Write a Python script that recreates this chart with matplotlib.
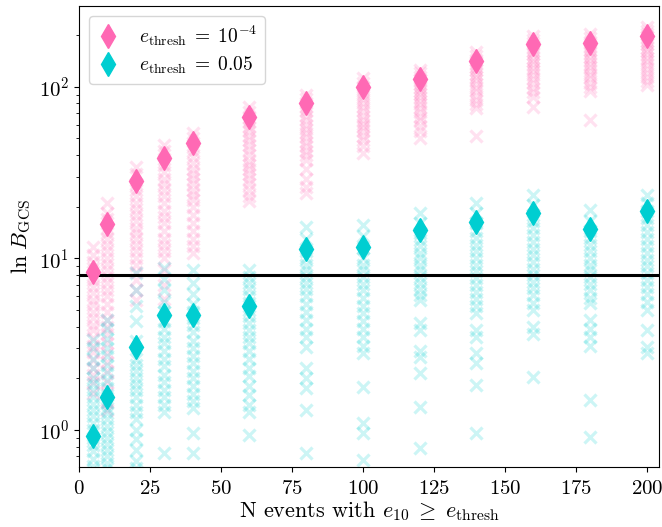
import numpy as np
import matplotlib
matplotlib.use("Agg")
import matplotlib.pyplot as plt

plt.rcParams["font.family"] = "serif"
plt.rcParams["font.serif"] = ["cmr10", "DejaVu Serif"]
plt.rcParams["mathtext.fontset"] = "cm"
plt.rcParams["axes.formatter.use_mathtext"] = True
plt.rcParams["axes.unicode_minus"] = False

# number of events per point
n_events = [5, 10, 20, 30, 40, 60, 80, 100, 120, 140, 160, 180, 200]

# headline values (diamonds)
pink_main = [8.3, 15.8, 28.1, 38.5, 47.1, 66.8, 80.7, 100, 111, 142, 178, 181, 198]
teal_main = [0.92, 1.56, 3.05, 4.66, 4.7, 5.25, 11.3, 11.7, 14.6, 16.4, 18.5, 14.8, 18.8]

# individual realisations, e_thresh = 1e-4
pink_5 = [11.7, 10.5, 9.5, 8.8, 8.0, 7.5, 6.8, 6.3, 5.7, 5.35, 4.9, 4.5, 4.1, 3.8, 3.45, 3.1, 2.85, 2.55, 2.3, 2.1, 1.9, 1.65]
pink_10 = [21, 18.5, 17, 15, 14, 13, 12, 11, 10, 9.3, 8.5, 7.8, 7.2, 6.5, 6.0, 5.4, 4.9, 4.4, 4.0, 3.6, 3.2, 2.8, 2.5, 2.2, 1.9, 1.65, 1.45, 1.3]
pink_20 = [34, 31, 27, 25, 23, 21, 19.5, 18, 16.5, 15, 14, 13, 12, 11, 10, 9.2, 8.3, 7.5, 6.5, 5.7]
pink_30 = [46, 42, 38, 35, 32, 29, 27, 25, 23, 21, 19, 17.5, 16, 14.5, 13, 12, 11, 10, 8.5, 7, 5.8]
pink_40 = [54, 50, 46, 42, 39, 36, 33, 31, 29, 27, 25, 23.5, 22, 20, 18, 16, 14.5, 13, 11.8, 10.8]
pink_60 = [76, 71, 66, 62, 58, 55, 52, 49, 46, 43, 40, 37, 35, 33, 31, 29, 27, 25, 23, 21.5]
pink_80 = [90, 85, 80, 76, 72, 68, 64, 60, 57, 54, 51, 48, 45, 42, 40, 37.5, 33, 29, 26, 24]
pink_100 = [113, 106, 100, 95, 90, 85, 80, 76, 72, 68, 64, 61, 58, 55, 52, 49, 45, 41]
pink_120 = [126, 120, 114, 109, 104, 99, 95, 91, 87, 83, 79, 75, 71, 67, 64, 59, 55, 50]
pink_140 = [160, 152, 144, 137, 131, 125, 119, 114, 109, 104, 99, 94, 89, 84, 79, 75, 52]
pink_160 = [198, 188, 179, 170, 162, 155, 148, 141, 135, 129, 123, 117, 111, 105, 99, 93, 87, 76]
pink_180 = [203, 192, 182, 173, 165, 157, 150, 143, 136, 130, 124, 118, 112, 106, 100, 94, 64]
pink_200 = [224, 213, 203, 194, 185, 177, 169, 162, 155, 148, 141, 134, 127, 120, 114, 108, 103]

# individual realisations, e_thresh = 0.05
teal_5 = [3.35, 3.0, 2.6, 2.3, 2.0, 1.85, 1.7, 1.55, 1.42, 1.3, 1.2, 1.1, 1.0, 0.9, 0.82, 0.75, 0.68, 0.62, 0.58]
teal_10 = [4.4, 3.9, 3.4, 3.0, 2.7, 2.4, 2.15, 1.95, 1.75, 1.6, 1.45, 1.35, 1.25, 1.15, 1.05, 0.97, 0.9, 0.83, 0.76, 0.7, 0.64, 0.6]
teal_20 = [8.2, 6.5, 5.3, 4.3, 3.3, 2.6, 2.4, 2.2, 2.0, 1.85, 1.7, 1.55, 1.4, 1.28, 1.15, 1.0, 0.88, 0.76, 0.66, 0.6]
teal_30 = [8.8, 7.6, 6.5, 5.6, 4.9, 4.3, 3.9, 3.5, 3.2, 2.9, 2.6, 2.35, 2.1, 1.9, 1.7, 1.55, 1.4, 1.28, 0.73]
teal_40 = [8.6, 7.2, 6.2, 5.4, 4.9, 4.5, 4.1, 3.7, 3.3, 3.0, 2.7, 2.45, 2.2, 2.0, 1.8, 1.62, 1.47, 1.35, 0.96, 0.73]
teal_60 = [8.6, 7.8, 7.2, 6.6, 6.0, 5.5, 5.0, 4.6, 4.2, 3.8, 3.5, 3.2, 2.9, 2.6, 2.3, 2.05, 1.8, 1.6, 1.4, 1.28, 0.93]
teal_80 = [15.3, 13, 11, 10, 9.2, 8.5, 7.8, 7.2, 6.6, 6.0, 5.4, 4.9, 4.4, 3.9, 3.5, 3.05, 2.3, 2.0, 1.75, 1.31, 0.73]
teal_100 = [15.7, 13.5, 11.5, 10, 9.2, 8.5, 7.8, 7.1, 6.5, 5.9, 5.3, 4.8, 4.3, 3.9, 3.5, 3.1, 2.8, 1.78, 1.1, 0.96, 0.67]
teal_120 = [18.5, 16, 14, 12.8, 11.8, 10.8, 10, 9.2, 8.5, 7.8, 7.2, 6.6, 6.1, 5.7, 4.2, 3.8, 2.9, 2.65, 2.15, 1.36, 0.78]
teal_140 = [21, 18.5, 16, 14.5, 13.2, 12, 11, 10, 9.2, 8.4, 7.7, 7.0, 6.4, 5.8, 5.3, 4.8, 3.8, 3.5, 2.8, 2.45, 1.83, 0.96]
teal_160 = [23.4, 20.5, 18, 16.5, 15, 13.7, 12.5, 11.4, 10.4, 9.5, 8.7, 8.0, 7.3, 6.7, 6.1, 5.5, 5.0, 4.0, 3.6, 2.04]
teal_180 = [19.2, 16.5, 14.5, 13.2, 12, 11, 10, 9.2, 8.5, 7.8, 7.1, 6.5, 5.9, 5.5, 4.4, 3.9, 3.5, 3.1, 1.5, 0.91]
teal_200 = [23.4, 21, 19, 17.2, 15.6, 14.2, 13, 11.8, 10.8, 9.8, 9.0, 8.2, 7.5, 6.8, 6.2, 5.6, 5.0, 3.8, 3.05, 2.8]

pink_samples = [pink_5, pink_10, pink_20, pink_30, pink_40, pink_60, pink_80,
                pink_100, pink_120, pink_140, pink_160, pink_180, pink_200]
teal_samples = [teal_5, teal_10, teal_20, teal_30, teal_40, teal_60, teal_80,
                teal_100, teal_120, teal_140, teal_160, teal_180, teal_200]

threshold = 8.0

pink = "#ff69b4"
teal = "#00ced1"
fs = 16

fig = plt.figure(figsize=(6.62, 5.27), dpi=100)
ax = fig.add_axes([0.1193, 0.1139, 0.8762, 0.8747])

for n, vals in zip(n_events, pink_samples):
    ax.scatter([n] * len(vals), vals, marker="x", s=75, linewidths=2.3,
               color=pink, alpha=0.2, zorder=1)
for n, vals in zip(n_events, teal_samples):
    ax.scatter([n] * len(vals), vals, marker="x", s=75, linewidths=2.3,
               color=teal, alpha=0.2, zorder=1)

ax.axhline(threshold, color="black", lw=2.2, zorder=2)

ax.plot(n_events, pink_main, "d", ms=12, color=pink, ls="none", zorder=3,
        label=r"$e_{\rm thresh}\;=\;10^{-4}$")
ax.plot(n_events, teal_main, "d", ms=12, color=teal, ls="none", zorder=3,
        label=r"$e_{\rm thresh}\;=\;0.05$")

ax.set_yscale("log")
ax.set_xlim(0, 204.3)
ax.set_ylim(0.608, 296)
ax.set_xticks([0, 25, 50, 75, 100, 125, 150, 175, 200])
ax.tick_params(labelsize=15)
ax.tick_params(axis="x", pad=6)

ax.set_xlabel(r"N events with $e_{10}\;\geq\;e_{\rm thresh}$", fontsize=fs, labelpad=1)
ax.set_ylabel(r"$\ln\,B_{\rm GCS}$", fontsize=fs)

ax.legend(loc="upper left", fontsize=14, handlelength=1.2, handletextpad=1.0,
          labelspacing=0.35, borderaxespad=0.5)

fig.savefig("out.png", dpi=100)
